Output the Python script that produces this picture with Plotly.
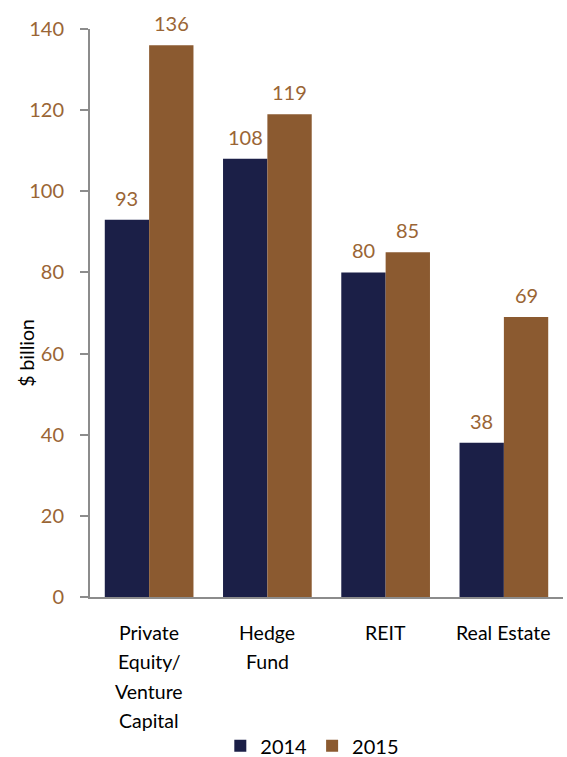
import plotly.graph_objects as go

categories = ["Private<br>Equity/<br>Venture<br>Capital", "Hedge<br>Fund", "REIT", "Real Estate"]
series_names = ["2014", "2015"]
values_2014 = [93, 108, 80, 38]
values_2015 = [136, 119, 85, 69]
y_ticks = [0, 20, 40, 60, 80, 100, 120, 140]

NAVY = "#1B1F47"
BROWN = "#8B5A30"
LABEL = "#9A6535"
FONT = "Lato"

BARGAP = 0.25
x_idx = list(range(len(categories)))
series = [(series_names[0], values_2014, NAVY), (series_names[1], values_2015, BROWN)]

fig = go.Figure()
for name, vals, col in series:
    fig.add_trace(go.Bar(
        x=x_idx, y=vals, name=name, marker=dict(color=col, line=dict(width=0)),
    ))

annotations = []
# value labels above bars (grouped-bar offsets)
bar_w = (1 - BARGAP) / len(series)
for s, (name, vals, col) in enumerate(series):
    off = -(1 - BARGAP) / 2 + bar_w * (s + 0.5)
    for i, v in enumerate(vals):
        annotations.append(dict(
            x=i + off, y=v, xref="x", yref="y", text=str(v), showarrow=False,
            yanchor="middle", xanchor="center", yshift=22,
            font=dict(size=20, color=LABEL, family=FONT),
        ))
for i, cat in enumerate(categories):
    for j, line in enumerate(cat.split("<br>")):
        annotations.append(dict(
            x=i, y=0, xref="x", yref="y", text=line, showarrow=False,
            yanchor="middle", xanchor="center", yshift=-35 - 29.5 * j,
            font=dict(size=19.5, color="#000000", family=FONT),
        ))
annotations.append(dict(
    x=-0.133, y=0.43, xref="paper", yref="paper", text="$ billion", textangle=-90,
    xanchor="center", yanchor="middle",
    showarrow=False, font=dict(size=19.5, color="#000000", family=FONT),
))

fig.update_layout(
    width=567, height=757,
    margin=dict(l=90, r=4, t=29, b=160, autoexpand=False),
    paper_bgcolor="white", plot_bgcolor="white",
    barmode="group", bargap=BARGAP, bargroupgap=0,
    font=dict(family=FONT, size=19),
    showlegend=True,
    legend=dict(orientation="h", x=0.47, xanchor="center", y=-0.262, yanchor="middle",
                font=dict(size=20, color="#000000", family=FONT), itemwidth=30,
                traceorder="normal"),
    annotations=annotations,
)
fig.update_xaxes(
    range=[-0.5, len(categories) - 0.5], showticklabels=False, ticks="",
    showline=True, linecolor="#8C8C8C", linewidth=2, showgrid=False, zeroline=False,
)
fig.update_yaxes(
    range=[0, 140], tickvals=y_ticks, ticks="outside", ticklen=8, tickcolor="#8C8C8C",
    tickwidth=2, showline=True, linecolor="#8C8C8C", linewidth=2, showgrid=False,
    zeroline=False, ticklabelstandoff=12, tickfont=dict(size=20, color=LABEL, family=FONT),
)

fig.write_html("out.html")
